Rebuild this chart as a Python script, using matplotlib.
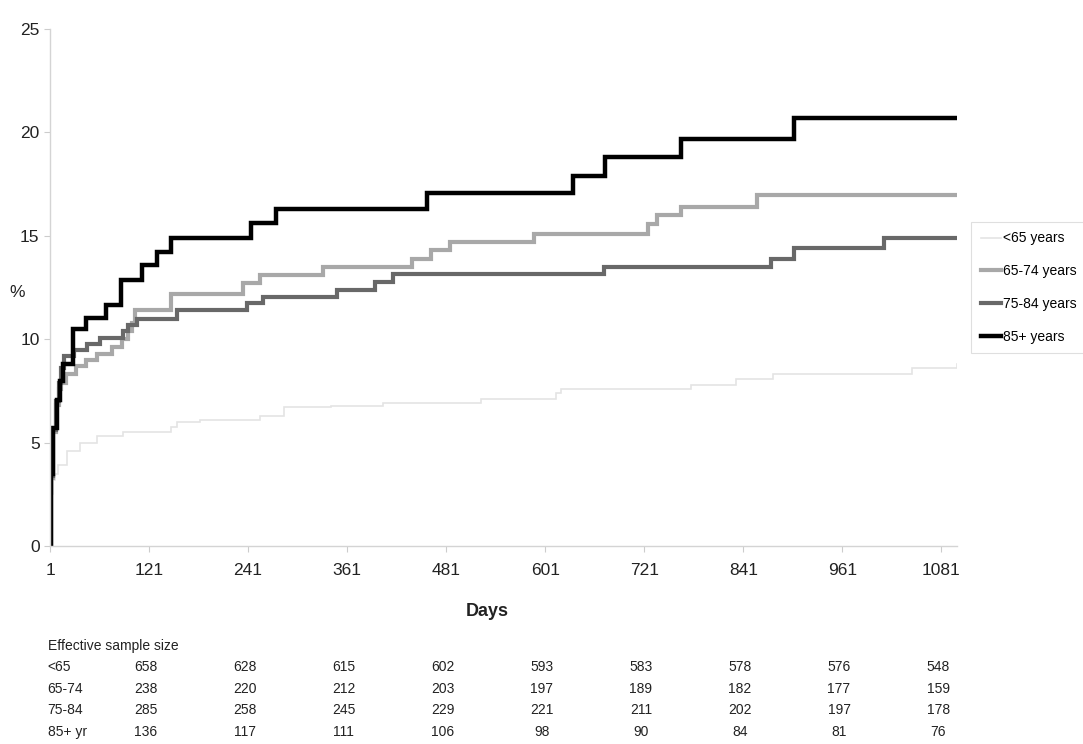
import matplotlib
matplotlib.use('Agg')
import matplotlib.pyplot as plt
from matplotlib import font_manager
from matplotlib.transforms import blended_transform_factory

# cumulative incidence (%) by age group, step points as (day, value)
under65_days = [1, 2, 4, 7, 11, 22, 37, 58, 90, 147, 155, 183, 256, 284, 341,
                404, 523, 614, 620, 778, 832, 877, 1046, 1100]
under65_pct = [0, 2.5, 3.2, 3.5, 3.9, 4.6, 5.0, 5.3, 5.5, 5.75, 6.0, 6.1, 6.3,
               6.7, 6.75, 6.9, 7.1, 7.4, 7.6, 7.8, 8.1, 8.3, 8.6, 8.8]

age65_74_days = [1, 2, 4, 8, 12, 14, 20, 33, 45, 58, 76, 88, 95, 100, 104, 147,
                 235, 256, 332, 440, 462, 486, 587, 725, 737, 765, 858, 1100]
age65_74_pct = [0, 3.3, 5.5, 6.8, 7.6, 7.9, 8.3, 8.7, 9.0, 9.3, 9.6, 10.0, 10.4,
                10.8, 11.4, 12.2, 12.7, 13.1, 13.5, 13.9, 14.3, 14.7, 15.1,
                15.55, 16.0, 16.4, 16.95, 16.95]

age75_84_days = [1, 2, 4, 8, 12, 14, 18, 30, 46, 61, 90, 96, 106, 155, 240,
                 259, 349, 395, 417, 672, 874, 902, 1011, 1100]
age75_84_pct = [0, 3.4, 5.6, 7.0, 7.9, 8.6, 9.2, 9.5, 9.75, 10.05, 10.4, 10.7,
                11.0, 11.4, 11.75, 12.05, 12.4, 12.75, 13.15, 13.5, 13.9, 14.4,
                14.9, 14.9]

age85_days = [1, 2, 4, 9, 13, 17, 29, 45, 69, 87, 113, 131, 147, 244, 275, 458,
              635, 674, 765, 903, 1100]
age85_pct = [0, 3.5, 5.7, 7.05, 8.0, 8.8, 10.5, 11.05, 11.65, 12.85, 13.6,
             14.2, 14.9, 15.6, 16.3, 17.05, 17.9, 18.8, 19.7, 20.7, 20.7]

labels = ['<65 years', '65-74 years', '75-84 years', '85+ years']

tick_days = [1, 121, 241, 361, 481, 601, 721, 841, 961, 1081]

# effective sample size table under the axis
ess_groups = ['<65', '65-74', '75-84', '85+ yr']
ess_under65 = [658, 628, 615, 602, 593, 583, 578, 576, 548]
ess_65_74 = [238, 220, 212, 203, 197, 189, 182, 177, 159]
ess_75_84 = [285, 258, 245, 229, 221, 211, 202, 197, 178]
ess_85 = [136, 117, 111, 106, 98, 90, 84, 81, 76]

names = {f.name for f in font_manager.fontManager.ttflist}
narrow = 'Liberation Sans Narrow' if 'Liberation Sans Narrow' in names else 'Liberation Sans'
plt.rcParams['font.family'] = [narrow, 'DejaVu Sans']

fig = plt.figure(figsize=(10.83, 7.44), dpi=100)
ax = fig.add_axes([0.0462, 0.2661, 0.8375, 0.6949])

series = [
    (under65_days, under65_pct, '#e4e4e4', 1.2),
    (age65_74_days, age65_74_pct, '#a8a8a8', 3.0),
    (age75_84_days, age75_84_pct, '#686868', 3.0),
    (age85_days, age85_pct, '#000000', 3.2),
]
for (d, p, c, lw), lab in zip(series, labels):
    ax.step(d, p, where='post', color=c, lw=lw, label=lab,
            solid_joinstyle='miter')

ax.set_xlim(1, 1100)
ax.set_ylim(0, 25)
ax.set_xticks(tick_days)
ax.set_yticks(range(0, 26, 5))
ax.tick_params(axis='both', labelsize=12.5, colors='#cccccc',
               labelcolor='#222222', length=4, width=0.8)
ax.tick_params(axis='x', pad=8)
for s in ['top', 'right']:
    ax.spines[s].set_visible(False)
for s in ['left', 'bottom']:
    ax.spines[s].set_color('#d4d4d4')
    ax.spines[s].set_linewidth(1.0)

fig.text(0.016, 0.607, '%', fontsize=12.5, color='#222222', ha='center', va='center')
fig.text(0.45, 0.178, 'Days', fontsize=13, fontweight='bold', color='#222222',
         ha='center', va='center')

leg = fig.legend(loc='upper left', bbox_to_anchor=(0.897, 0.702),
                 fontsize=10, frameon=True, fancybox=False,
                 handlelength=1.4, handletextpad=0.15, labelspacing=1.35,
                 borderpad=0.7, borderaxespad=0)
leg.get_frame().set_edgecolor('#d8d8d8')
leg.get_frame().set_linewidth(0.8)

# sample size rows, columns aligned to the x ticks
trans = blended_transform_factory(ax.transData, fig.transFigure)
fig.text(0.044, 1 - 646 / 744, 'Effective sample size', fontsize=10,
         color='#222222', va='center')
rows = [ess_under65, ess_65_74, ess_75_84, ess_85]
for i, (grp, vals) in enumerate(zip(ess_groups, rows)):
    yy = 1 - (667 + i * 21.7) / 744
    fig.text(0.044, yy, grp, fontsize=10, color='#222222', va='center')
    for day, v in zip(tick_days[1:], vals):
        ax.text(day - 4, yy, str(v), transform=trans, fontsize=10,
                color='#222222', ha='center', va='center')

fig.savefig('out.png', dpi=100)
